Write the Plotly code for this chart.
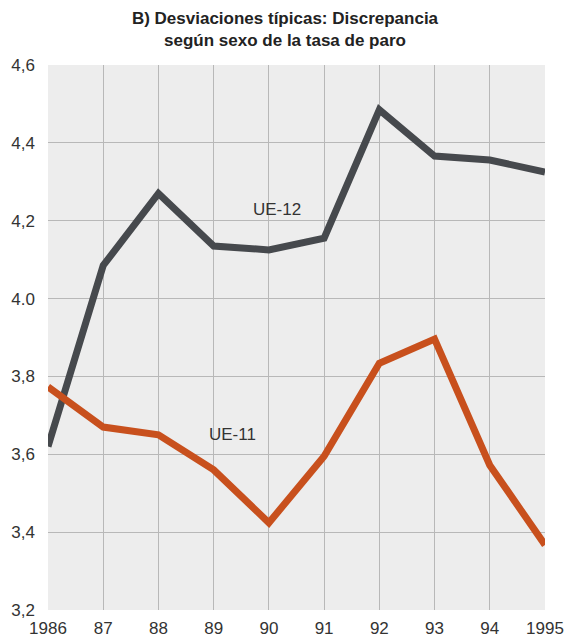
import plotly.graph_objects as go

years = [1986, 1987, 1988, 1989, 1990, 1991, 1992, 1993, 1994, 1995]
year_labels = ['1986', '87', '88', '89', '90', '91', '92', '93', '94', '1995']
ue12 = [3.62, 4.085, 4.27, 4.135, 4.125, 4.155, 4.485, 4.366, 4.356, 4.325]
ue11 = [3.773, 3.67, 3.65, 3.56, 3.424, 3.595, 3.834, 3.896, 3.572, 3.367]
y_ticks = [3.2, 3.4, 3.6, 3.8, 4.0, 4.2, 4.4, 4.6]
y_labels = ['3,2', '3,4', '3,6', '3,8', '4.0', '4,2', '4,4', '4,6']

W, H = 569, 641

fig = go.Figure()
fig.add_trace(go.Scatter(x = years, y = ue12, mode = 'lines', name = 'UE-12',
                         line = {'color': '#46494d', 'width': 7}))
fig.add_trace(go.Scatter(x = years, y = ue11, mode = 'lines', name = 'UE-11',
                         line = {'color': '#c8501d', 'width': 7}))

fig.add_annotation(x = 1990.15, y = 4.23, text = 'UE-12', showarrow = False,
                   font = {'size': 17, 'color': '#333333'})
fig.add_annotation(x = 1989.35, y = 3.65, text = 'UE-11', showarrow = False,
                   font = {'size': 17, 'color': '#333333'})

fig.update_layout(
    width = W, height = H,
    title = {'text': '<b>B) Desviaciones típicas: Discrepancia<br>según sexo de la tasa de paro</b>',
             'x': 285 / W, 'xanchor': 'center', 'y': 1 - 24 / H, 'yanchor': 'middle',
             'automargin': False,
             'font': {'size': 17, 'color': '#222222'}},
    font = {'family': 'Liberation Sans, Arial, sans-serif', 'size': 17, 'color': '#333333'},
    showlegend = False,
    paper_bgcolor = 'white',
    plot_bgcolor = '#ededed',
    margin = {'l': 48, 'r': 24, 't': 65, 'b': 31},
)
fig.update_xaxes(range = [1986, 1995], tickvals = years, ticktext = year_labels,
                 showgrid = True, gridcolor = '#b8b8b8', gridwidth = 1, automargin = False,
                 zeroline = False, showline = False, ticks = '', ticklabelstandoff = 6)
fig.update_yaxes(range = [3.2, 4.6], tickvals = y_ticks, ticktext = y_labels,
                 showgrid = True, gridcolor = '#b8b8b8', gridwidth = 1, automargin = False,
                 zeroline = False, showline = False, ticks = '', ticklabelstandoff = 12)

# drop the default body margin so the figure fills the window exactly
fig.write_html("out.html", config = {'displayModeBar': False},
               post_script = "document.body.style.margin = '0';")
